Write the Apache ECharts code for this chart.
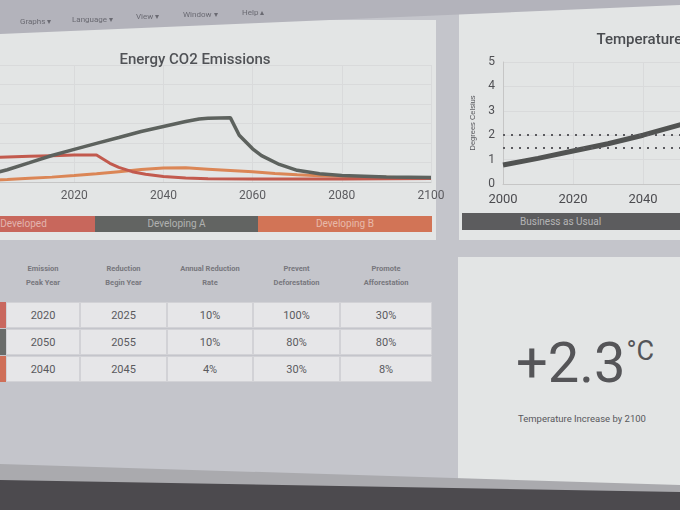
<!DOCTYPE html>
<html><head><meta charset="utf-8">
<script src="https://cdn.jsdelivr.net/npm/echarts@6/dist/echarts.min.js"></script>
<style>
html,body{margin:0;padding:0;width:680px;height:510px;overflow:hidden;background:#c4c5cb;font-family:Roboto,"Noto Sans",sans-serif;}
.a{position:absolute;}
#menu{left:0;top:0;width:680px;height:36px;background:#b3b3bb;clip-path:polygon(0 0,100% 0,100% 5px,0 34px);z-index:5}
.mi{position:absolute;font-size:8px;color:#6a6a72;z-index:6;white-space:nowrap}
.panel{background:#e3e5e5}
.seg{position:absolute;top:0;height:16px;line-height:16px;font-size:10px;color:rgba(255,255,255,0.5);text-align:center;white-space:nowrap;overflow:hidden}
.hd{position:absolute;top:262px;font-size:7.5px;font-weight:bold;color:#77777d;text-align:center;line-height:14px}
.cell{position:absolute;height:26px;line-height:26px;background:#e6e6e8;border:1px solid #d2d2d6;box-sizing:border-box;text-align:center;font-size:11px;color:#5a5a5e}
.mk{position:absolute;left:0;width:6px;height:26px}
</style>
</head><body>
<div id="menu" class="a"></div>
<div class="mi" style="left:20px;top:17px">Graphs ▾</div>
<div class="mi" style="left:72px;top:15px">Language ▾</div>
<div class="mi" style="left:136px;top:12px">View ▾</div>
<div class="mi" style="left:183px;top:10px">Window ▾</div>
<div class="mi" style="left:242px;top:8px">Help ▴</div>

<div class="a panel" style="left:0;top:20px;width:436px;height:220px"></div>
<div class="a panel" style="left:459px;top:0;width:221px;height:240px"></div>
<div id="c1" class="a" style="left:-60px;top:35px;width:510px;height:178px"></div>
<div id="c2" class="a" style="left:460px;top:10px;width:420px;height:203px"></div>

<div id="leg1" class="a" style="left:0;top:216px;width:432px;height:16px"></div>
<div class="a" style="left:462px;top:213px;width:240px;height:17px;background:#5c5c5e;color:rgba(255,255,255,0.55);font-size:10px;line-height:17px;padding-left:58px;box-sizing:border-box">Business as Usual</div>

<div id="tbl"></div>

<div class="a panel" style="left:458px;top:257px;width:222px;height:230px"></div>
<div class="a" id="big" style="left:516px;top:330px;color:#555558;white-space:nowrap"></div>
<div class="a" id="bigsub" style="left:518px;top:413px;font-size:9.5px;color:#58585c;white-space:nowrap"></div>

<div class="a" style="left:0;top:460px;width:680px;height:50px;background:#aaaaae;clip-path:polygon(0 4px,100% 25px,100% 100%,0 100%)"></div>
<div class="a" style="left:0;top:460px;width:680px;height:50px;background:#4c4a4e;clip-path:polygon(0 20px,100% 32px,100% 100%,0 100%)"></div>

<script>
// Energy CO2 emissions (arbitrary units), [year, value]
const developed = [[2000,12.4],[2005,12.8],[2010,13.2],[2015,13.5],[2020,13.8],[2025,13.8],[2028,9.6],[2030,7.5],[2033,5.3],[2036,4.0],[2040,2.8],[2045,2.0],[2050,1.7],[2060,1.6],[2070,1.6],[2080,1.6],[2090,1.7],[2100,1.8]];
const developingA = [[2000,3.3],[2005,6.3],[2010,9.9],[2015,13.6],[2020,16.7],[2025,19.8],[2030,22.8],[2035,25.9],[2040,28.5],[2045,31.0],[2048,32.3],[2050,32.7],[2055,33.0],[2057,24.0],[2060,17.0],[2062,13.5],[2066,9.0],[2070,6.0],[2075,4.2],[2080,3.3],[2090,2.6],[2100,2.3]];
const developingB = [[2000,0.8],[2005,1.3],[2010,1.9],[2015,2.5],[2020,3.3],[2025,4.2],[2030,5.3],[2035,6.4],[2040,7.2],[2045,7.3],[2050,6.6],[2055,5.9],[2060,5.2],[2065,4.3],[2070,3.7],[2075,3.2],[2080,2.9],[2085,2.6],[2090,2.4],[2095,2.2],[2100,2.1]];
const scenarioNames = ['Developed','Developing A','Developing B'];
const lineColors = ['#c25a4e','#5d625e','#db8656'];
const legendColors = ['#c8675c','#626462','#d27456'];

// Temperature (degrees Celsius)
const tempYears = [2000,2010,2020,2030,2040,2050,2060,2070,2080,2090,2100];
const bauTemp = [0.78,1.05,1.35,1.65,2.0,2.4,2.8,3.2,3.6,4.0,4.4];
const thresholds = [2, 1.5];

// Table
const tableHeaders = [['Emission','Peak Year'],['Reduction','Begin Year'],['Annual Reduction','Rate'],['Prevent','Deforestation'],['Promote','Afforestation']];
const peakYear = ['2020','2050','2040'];
const beginYear = ['2025','2055','2045'];
const reductionRate = ['10%','10%','4%'];
const preventDef = ['100%','80%','30%'];
const promoteAff = ['30%','80%','8%'];
const rowColors = ['#c9675e','#6a6c6a','#cf6f58'];

const bigValue = '+2.3';
const bigUnit = '°C';
const bigLabel = 'Temperature Increase by 2100';

// legend bar
const segs = [[-48,143],[95,163],[258,174]];
const leg = document.getElementById('leg1');
scenarioNames.forEach((n,i)=>{
  const d=document.createElement('div');d.className='seg';
  d.style.left=segs[i][0]+'px';d.style.width=segs[i][1]+'px';d.style.background=legendColors[i];
  d.textContent=n;leg.appendChild(d);
});

// table
const tbl=document.getElementById('tbl');
const colL=[6,80,167,253,340], colW=[74,87,86,87,92];
tableHeaders.forEach((h,i)=>{
  const d=document.createElement('div');d.className='hd';
  d.style.left=colL[i]+'px';d.style.width=colW[i]+'px';
  d.innerHTML=h[0]+'<br>'+h[1];tbl.appendChild(d);
});
const cols=[peakYear,beginYear,reductionRate,preventDef,promoteAff];
const rowTop=[302,329,356];
for(let r=0;r<3;r++){
  const m=document.createElement('div');m.className='mk';m.style.top=rowTop[r]+'px';m.style.background=rowColors[r];tbl.appendChild(m);
  cols.forEach((c,i)=>{
    const d=document.createElement('div');d.className='cell';
    d.style.left=colL[i]+'px';d.style.width=colW[i]+'px';d.style.top=rowTop[r]+'px';
    d.textContent=c[r];tbl.appendChild(d);
  });
}
document.getElementById('big').innerHTML='<span style="font-size:56px">'+bigValue+'</span><span style="font-size:27px;vertical-align:22px;margin-left:1px">'+bigUnit+'</span>';
document.getElementById('bigsub').textContent=bigLabel;

const yearFmt = v => String(v);

const c1=echarts.init(document.getElementById('c1'));
c1.setOption({
  animation:false,
  title:{text:'Energy CO2 Emissions',left:'center',top:13,textStyle:{fontSize:15,fontWeight:500,color:'#505256',fontFamily:'Roboto'}},
  grid:{left:45,right:19,top:30,bottom:31},
  xAxis:{type:'value',min:2000,max:2100,interval:20,axisLine:{lineStyle:{color:'#c6c6c6'}},axisTick:{show:false},
    axisLabel:{color:'#5c5c60',fontSize:12,margin:8,fontFamily:'Roboto',formatter:yearFmt},splitLine:{show:true,lineStyle:{color:'#d9dadb'}}},
  yAxis:{type:'value',min:0,max:60,interval:10,axisLine:{show:false},axisTick:{show:false},axisLabel:{show:false},splitLine:{lineStyle:{color:'#d9dadb'}}},
  series:[
    {name:scenarioNames[2],type:'line',data:developingB,showSymbol:false,lineStyle:{width:3,color:lineColors[2]}},
    {name:scenarioNames[0],type:'line',data:developed,showSymbol:false,lineStyle:{width:3,color:lineColors[0]}},
    {name:scenarioNames[1],type:'line',data:developingA,showSymbol:false,lineStyle:{width:3.5,color:lineColors[1]}}
  ]
});

const c2=echarts.init(document.getElementById('c2'));
c2.setOption({
  animation:false,
  title:{text:'Temperature Increase',left:'center',top:18,textStyle:{fontSize:15,fontWeight:500,color:'#4a4c50',fontFamily:'Roboto'}},
  grid:{left:43,right:27,top:52,bottom:29},
  xAxis:{type:'value',min:2000,max:2100,interval:20,axisLine:{lineStyle:{color:'#c6c6c6'}},axisTick:{show:false},
    axisLabel:{color:'#4c4c50',fontSize:13,margin:9,fontFamily:'Roboto',formatter:yearFmt},splitLine:{show:true,lineStyle:{color:'#d9dadb'}}},
  yAxis:{type:'value',min:0,max:5,interval:1,name:'Degrees Celsius',nameLocation:'middle',nameGap:26,
    nameTextStyle:{fontSize:7.5,color:'#55555a'},axisLine:{show:true,lineStyle:{color:'#c6c6c6'}},axisTick:{show:false},
    axisLabel:{color:'#505054',fontSize:12,margin:8,fontFamily:'Roboto'},splitLine:{lineStyle:{color:'#d9dadb'}}},
  series:[
    {name:'Business as Usual',type:'line',data:tempYears.map((y,i)=>[y,bauTemp[i]]),showSymbol:false,
     lineStyle:{width:5,color:'#515352'},
     markLine:{silent:true,symbol:['none','none'],label:{show:false},
       lineStyle:{type:[2,6],color:'#5a5a5e',width:2},
       data:thresholds.map(t=>({yAxis:t}))}}
  ]
});
</script>
</body></html>
